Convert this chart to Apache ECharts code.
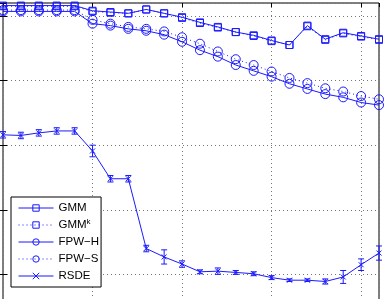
<!DOCTYPE html>
<html>
<head>
<meta charset="utf-8">
<script src="https://cdn.jsdelivr.net/npm/echarts@6/dist/echarts.min.js"></script>
<style>
  html, body { margin: 0; padding: 0; background: #fff; }
  #chart { width: 385px; height: 299px; }
</style>
</head>
<body>
<div id="chart"></div>
<script>
// x positions 0..21, y values
const xs = [0, 1, 2, 3, 4, 5, 6, 7, 8, 9, 10, 11, 12, 13, 14, 15, 16, 17, 18, 19, 20, 21];
const gmm  = [0.916, 0.916, 0.916, 0.916, 0.916, 0.908, 0.906, 0.904, 0.910, 0.904, 0.898, 0.890, 0.883, 0.875, 0.870, 0.862, 0.855, 0.885, 0.864, 0.874, 0.869, 0.864];
const gmmK = [0.915, 0.915, 0.915, 0.915, 0.915, 0.907, 0.905, 0.904, 0.910, 0.904, 0.897, 0.889, 0.882, 0.875, 0.869, 0.861, 0.855, 0.884, 0.863, 0.873, 0.868, 0.863];
const fpwH = [0.907, 0.907, 0.907, 0.907, 0.907, 0.888, 0.885, 0.880, 0.877, 0.871, 0.860, 0.847, 0.837, 0.824, 0.815, 0.806, 0.795, 0.787, 0.779, 0.774, 0.766, 0.762];
const fpwS = [0.909, 0.909, 0.909, 0.909, 0.909, 0.894, 0.888, 0.883, 0.880, 0.876, 0.867, 0.857, 0.845, 0.833, 0.824, 0.814, 0.804, 0.796, 0.788, 0.783, 0.776, 0.771];
const rsde = [0.716, 0.715, 0.719, 0.722, 0.722, 0.691, 0.648, 0.648, 0.540, 0.527, 0.516, 0.504, 0.505, 0.503, 0.501, 0.495, 0.491, 0.491, 0.489, 0.496, 0.515, 0.533];
const rsdeErr = [0.005, 0.005, 0.005, 0.005, 0.005, 0.009, 0.005, 0.005, 0.005, 0.011, 0.005, 0.003, 0.005, 0.003, 0.003, 0.003, 0.002, 0.002, 0.004, 0.010, 0.009, 0.011];
const yTicks = [0.4, 0.5, 0.6, 0.7, 0.8, 0.9];

const blue = '#1a1aff';
const pairs = arr => arr.map((v, i) => [xs[i], v]);

const chart = echarts.init(document.getElementById('chart'));

function lineSeries(name, data, symbol, size, dotted) {
  return {
    name: name,
    type: 'line',
    data: pairs(data),
    symbol: symbol,
    symbolSize: size,
    clip: false,
    lineStyle: { color: blue, width: 1, type: dotted ? [1, 3] : 'solid' },
    itemStyle: { color: 'rgba(0,0,0,0)', borderColor: blue, borderWidth: 1 },
    emphasis: { disabled: true }
  };
}

const dots = { color: '#777', type: [1, 3], width: 1 };
const inTick = { show: true, inside: true, length: 4, lineStyle: { color: '#000' } };

// plot area runs past the bottom edge (the picture is cropped there)
const option = {
  animation: false,
  grid: {
    left: 3, right: 6, top: 3, height: 336,
    outerBoundsMode: 'none', containLabel: false,
    show: true, borderColor: '#000', borderWidth: 1, backgroundColor: '#fff'
  },
  xAxis: [
    {
      type: 'value', min: 0, max: 21, interval: 5, position: 'bottom',
      axisLabel: { show: false }, axisLine: { show: false }, axisTick: { show: false },
      splitLine: { show: true, lineStyle: dots }
    },
    {
      type: 'value', min: 0, max: 21, interval: 5, position: 'top',
      axisLabel: { show: false }, axisLine: { show: false }, axisTick: inTick,
      splitLine: { show: false }
    }
  ],
  yAxis: [
    {
      type: 'value', min: yTicks[0], max: 0.92, interval: 0.1, position: 'left',
      axisLabel: { show: false }, axisLine: { show: false }, axisTick: inTick,
      splitLine: { show: true, lineStyle: dots }
    },
    {
      type: 'value', min: yTicks[0], max: 0.92, interval: 0.1, position: 'right',
      axisLabel: { show: false }, axisLine: { show: false }, axisTick: inTick,
      splitLine: { show: false }
    }
  ],
  legend: {
    orient: 'vertical',
    left: 11, bottom: 12,
    data: ['GMM', 'GMMk', 'FPW−H', 'FPW−S', 'RSDE'],
    itemWidth: 35, itemHeight: 8, itemGap: 3,
    padding: [4, 2, 4, 7],
    backgroundColor: '#fff', borderColor: '#000', borderWidth: 1,
    lineStyle: { width: 1 },
    itemStyle: { borderWidth: 1 },
    formatter: name => name === 'GMMk' ? 'GMM{sup|k}' : name,
    textStyle: {
      color: '#000', fontSize: 11.5, lineHeight: 14, fontFamily: 'Liberation Sans, Arial, sans-serif',
      rich: { sup: { fontSize: 8, lineHeight: 8, fontFamily: 'Liberation Sans, Arial, sans-serif', color: '#000', verticalAlign: 'top' } }
    }
  },
  series: [
    lineSeries('GMM', gmm, 'rect', 7, false),
    lineSeries('GMMk', gmmK, 'rect', 7, true),
    lineSeries('FPW−H', fpwH, 'circle', 9, false),
    lineSeries('FPW−S', fpwS, 'circle', 9, true),
    Object.assign(lineSeries('RSDE', rsde, 'path://M0,0L10,10M10,0L0,10', 5, false), {
      itemStyle: { color: blue, borderColor: blue, borderWidth: 1 }
    }),
    {
      type: 'custom',
      name: 'err',
      data: rsde.map((v, i) => [xs[i], v - rsdeErr[i], v + rsdeErr[i]]),
      encode: { x: 0, y: [1, 2] },
      clip: false,
      renderItem: function (params, api) {
        const lo = api.coord([api.value(0), api.value(1)]);
        const hi = api.coord([api.value(0), api.value(2)]);
        const c = 3;
        const st = { stroke: blue, lineWidth: 1 };
        return {
          type: 'group',
          children: [
            { type: 'line', shape: { x1: lo[0], y1: lo[1], x2: hi[0], y2: hi[1] }, style: st },
            { type: 'line', shape: { x1: lo[0] - c, y1: lo[1], x2: lo[0] + c, y2: lo[1] }, style: st },
            { type: 'line', shape: { x1: hi[0] - c, y1: hi[1], x2: hi[0] + c, y2: hi[1] }, style: st }
          ]
        };
      }
    }
  ]
};

chart.setOption(option);
</script>
</body>
</html>
